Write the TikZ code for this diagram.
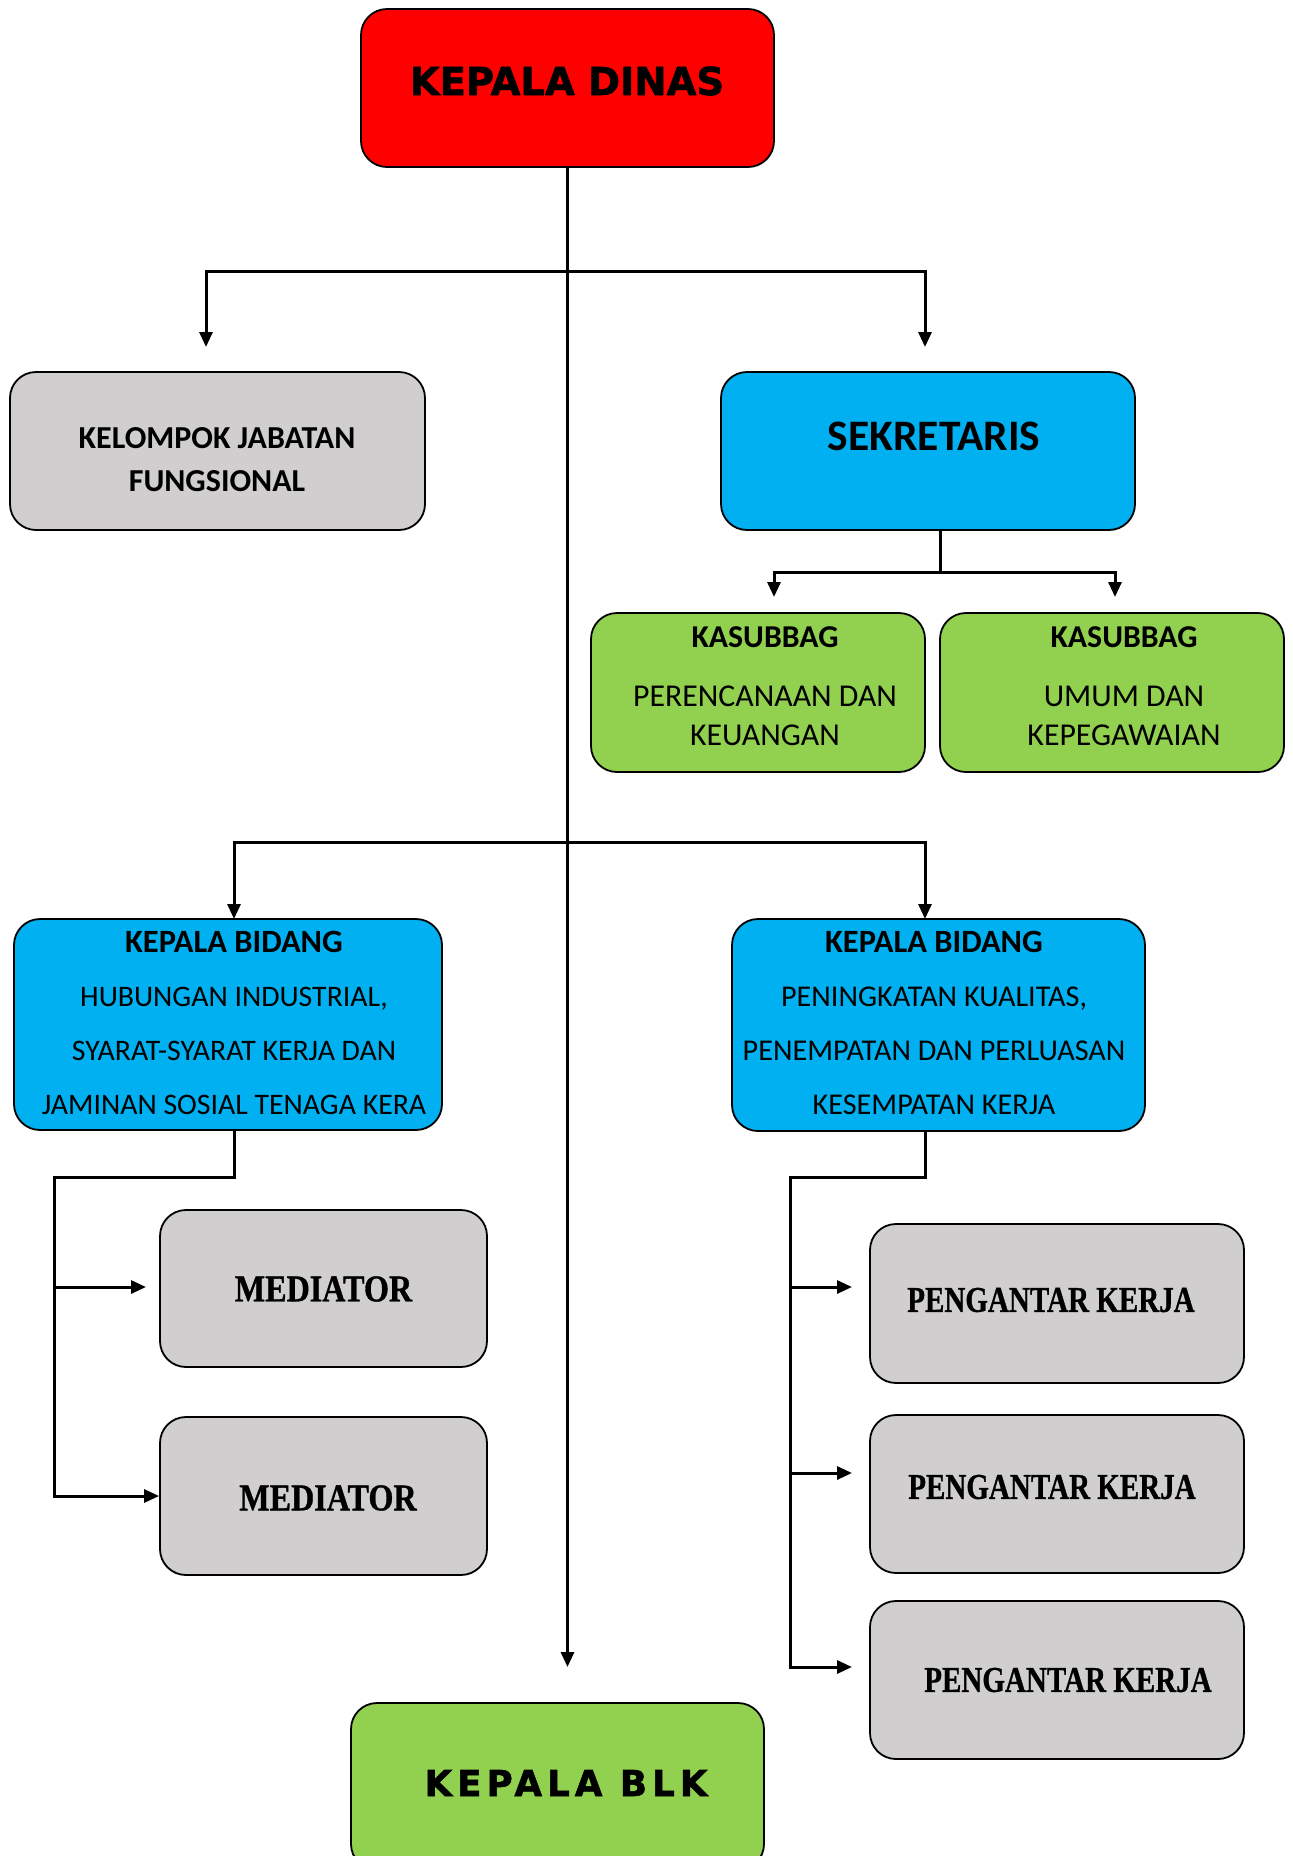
\documentclass[tikz,border=0pt]{standalone}
\usepackage{fontspec}
\setmainfont{Carlito}
\newfontfamily\blackfont{DejaVu Sans}[FakeBold=1.5]
\newfontfamily\blkfont{DejaVu Sans}[LetterSpace=14,FakeBold=1.5]
\newfontfamily\medfont{Liberation Serif}[FakeStretch=0.85,FakeBold=0.8]
\newfontfamily\pkfont{Liberation Serif}[FakeStretch=0.80,FakeBold=0.8]
\usetikzlibrary{arrows.meta}
\definecolor{dinasred}{HTML}{FF0000}
\definecolor{sekblue}{HTML}{00B0F0}
\definecolor{kasgreen}{HTML}{92D050}
\definecolor{jabgray}{HTML}{D0CECE}
\tikzset{
  unit box/.style={draw=black, line width=1.8pt, rounded corners=26pt, inner sep=0pt},
  link/.style={line width=3pt},
  pointer/.style={link, -{Triangle[length=15pt,width=13pt]}},
  both pointer/.style={link, {Triangle[length=15pt,width=13pt]}-{Triangle[length=15pt,width=13pt]}},
}

\begin{document}
\begin{tikzpicture}[x=1pt,y=-1pt]
\useasboundingbox (0,0) rectangle (1293,1856);

% connector points
\coordinate (topmid) at (567.5,271);
\coordinate (kjfin) at (206,347);
\coordinate (sekin) at (925,347);
\coordinate (sekout) at (940,530);
\coordinate (sekmid) at (940,572);
\coordinate (kas1in) at (774,597);
\coordinate (kas2in) at (1115,597);
\coordinate (midmid) at (567.5,842);
\coordinate (kb1in) at (234,919);
\coordinate (kb2in) at (925,919);
\coordinate (kb1out) at (234,1131);
\coordinate (kb2out) at (925,1131);
\coordinate (lbus) at (54,1177);
\coordinate (lb1) at (54,1287);
\coordinate (med1in) at (146,1287);
\coordinate (rbus) at (790,1177);
\coordinate (rb1) at (790,1287);
\coordinate (rb2) at (790,1473);
\coordinate (pk1in) at (852,1287);
\coordinate (pk2in) at (852,1473);
\coordinate (pk3in) at (852,1667);
\coordinate (blkin) at (567.5,1667);

% boxes
\node[unit box, fill=dinasred, minimum width=413pt, minimum height=158pt] (kd) at (567.5,88) {};
\node[unit box, fill=jabgray, minimum width=415pt, minimum height=158pt] (kjf) at (217.5,451) {};
\node[unit box, fill=sekblue, minimum width=414pt, minimum height=158pt] (sek) at (928,451) {};
\node[unit box, fill=kasgreen, minimum width=334pt, minimum height=159pt] (kas1) at (758,692.5) {};
\node[unit box, fill=kasgreen, minimum width=344pt, minimum height=159pt] (kas2) at (1112,692.5) {};
\node[unit box, fill=sekblue, minimum width=428pt, minimum height=211pt] (kb1) at (228,1024.5) {};
\node[unit box, fill=sekblue, minimum width=413pt, minimum height=212pt] (kb2) at (938.5,1025) {};
\node[unit box, fill=jabgray, minimum width=327pt, minimum height=157pt] (med1) at (323.5,1288.5) {};
\node[unit box, fill=jabgray, minimum width=327pt, minimum height=158pt] (med2) at (323.5,1496) {};
\node[unit box, fill=jabgray, minimum width=374pt, minimum height=159pt] (pk1) at (1057,1303.5) {};
\node[unit box, fill=jabgray, minimum width=374pt, minimum height=158pt] (pk2) at (1057,1494) {};
\node[unit box, fill=jabgray, minimum width=374pt, minimum height=158pt] (pk3) at (1057,1680) {};
\node[unit box, fill=kasgreen, minimum width=413pt, minimum height=167pt] (blk) at (557.5,1786.5) {};

% texts
\node[font={\blackfont\bfseries\fontsize{38.5}{46}\selectfont}] (kdt) at (567,81) {KEPALA DINAS};
\node[align=center, font={\bfseries\fontsize{32}{43}\selectfont}] (kjft) at (217,460) {KELOMPOK JABATAN\\FUNGSIONAL};
\node[font={\bfseries\fontsize{43.5}{48}\selectfont}] (sekt) at (934,436) {SEKRETARIS};
\node[align=center, font={\fontsize{31.8}{39}\selectfont}] (kas1t) at (765,686)
  {\textbf{KASUBBAG}\\[20pt]PERENCANAAN DAN\\KEUANGAN};
\node[align=center, font={\fontsize{31.8}{39}\selectfont}] (kas2t) at (1124,686)
  {\textbf{KASUBBAG}\\[20pt]UMUM DAN\\KEPEGAWAIAN};
\node[align=center, font={\fontsize{29.8}{54}\selectfont}] (kb1t) at (234,1023)
  {\textbf{\fontsize{32.5}{54}\selectfont KEPALA BIDANG}\\HUBUNGAN INDUSTRIAL,\\SYARAT-SYARAT KERJA DAN\\JAMINAN SOSIAL TENAGA KERA};
\node[align=center, font={\fontsize{30.2}{54}\selectfont}] (kb2t) at (934,1023)
  {\textbf{\fontsize{32.5}{54}\selectfont KEPALA BIDANG}\\PENINGKATAN KUALITAS,\\PENEMPATAN DAN PERLUASAN\\KESEMPATAN KERJA};
\node[font={\medfont\bfseries\fontsize{37.8}{44}\selectfont}] (med1t) at (323.5,1289) {MEDIATOR};
\node[font={\medfont\bfseries\fontsize{37.8}{44}\selectfont}] (med2t) at (328,1498) {MEDIATOR};
\node[font={\pkfont\bfseries\fontsize{36.3}{44}\selectfont}] (pk1t) at (1051,1300) {PENGANTAR KERJA};
\node[font={\pkfont\bfseries\fontsize{36.3}{44}\selectfont}] (pk2t) at (1052,1487) {PENGANTAR KERJA};
\node[font={\pkfont\bfseries\fontsize{36.3}{44}\selectfont}] (pk3t) at (1068,1680) {PENGANTAR KERJA};
\node[font={\blkfont\bfseries\fontsize{35.7}{44}\selectfont}] (blkt) at (566,1783) {KEPALA BLK};

% connectors
\draw[pointer] (kd.south) -- (blkin);
\draw[both pointer] (kjfin) |- (topmid) -| (sekin);
\draw[link] (sekout) -- (sekmid);
\draw[both pointer] (kas1in) |- (sekmid) -| (kas2in);
\draw[both pointer] (kb1in) |- (midmid) -| (kb2in);
\draw[pointer] (kb1out) |- (lbus) |- (med2.west);
\draw[pointer] (lb1) -- (med1in);
\draw[pointer] (kb2out) |- (rbus) |- (pk3in);
\draw[pointer] (rb1) -- (pk1in);
\draw[pointer] (rb2) -- (pk2in);
\end{tikzpicture}
\end{document}
